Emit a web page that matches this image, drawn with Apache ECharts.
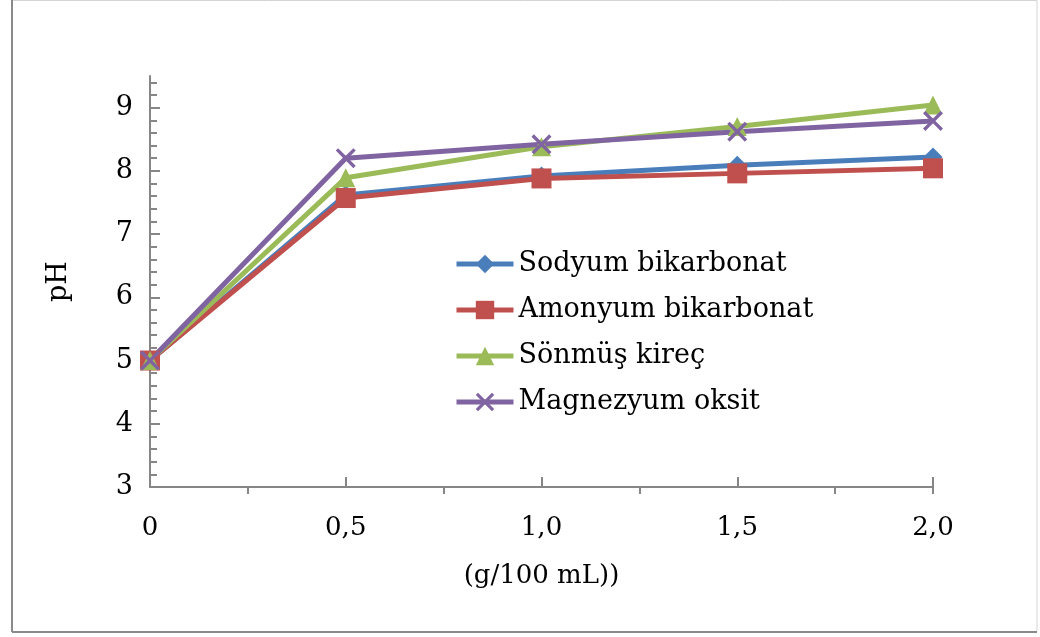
<!DOCTYPE html>
<html>
<head>
<meta charset="utf-8">
<script src="https://cdn.jsdelivr.net/npm/echarts@6/dist/echarts.min.js"></script>
<style>
  html, body { margin: 0; padding: 0; background: #fff; }
  #chart { width: 1040px; height: 637px; }
</style>
</head>
<body>
<div id="chart"></div>
<script>
// Dose (g/100 mL) and measured pH for each treatment
const doses = [0, 0.5, 1.0, 1.5, 2.0];
const sodyumBikarbonat = [5.0, 7.62, 7.92, 8.09, 8.22];
const amonyumBikarbonat = [5.0, 7.57, 7.88, 7.96, 8.04];
const sonmusKirec = [5.0, 7.89, 8.38, 8.70, 9.04];
const magnezyumOksit = [5.0, 8.20, 8.42, 8.62, 8.79];

const seriesNames = ['Sodyum bikarbonat', 'Amonyum bikarbonat', 'Sönmüş kireç', 'Magnezyum oksit'];

// Axis tick positions
const yTickLabels = [3, 4, 5, 6, 7, 8, 9];
const xTickLabels = [0, 0.5, 1.0, 1.5, 2.0];
const xMinorTicks = [0.25, 0.75, 1.25, 1.75, 2.0];

const yMinorTicks = [];
for (let v = 3.2; v < 9.45; v += 0.2) {
  const r = Math.round(v * 10) / 10;
  if (Math.abs(r - Math.round(r)) > 1e-6) yMinorTicks.push(r);
}

const FONT = 'DejaVu Serif';
const AXIS_GRAY = '#868686';
const CROSS = 'path://M0,1.2 L1.2,0 L5,3.8 L8.8,0 L10,1.2 L6.2,5 L10,8.8 L8.8,10 L5,6.2 L1.2,10 L0,8.8 L3.8,5 Z';

function pairs(ys) { return doses.map((x, i) => [x, ys[i]]); }

function lineSeries(name, ys, color, symbol, size) {
  return {
    name: name,
    type: 'line',
    data: pairs(ys),
    symbol: symbol,
    symbolSize: size,
    showAllSymbol: true,
    lineStyle: { color: color, width: 5 },
    itemStyle: { color: color },
    emphasis: { disabled: true }
  };
}

const chart = echarts.init(document.getElementById('chart'), null, { renderer: 'canvas' });

chart.setOption({
  animation: false,
  backgroundColor: '#ffffff',
  textStyle: { fontFamily: FONT },
  grid: { left: 150, right: 107, top: 76, bottom: 150, containLabel: false },
  graphic: [
    { type: 'rect', shape: { x: 12, y: 0.5, width: 1025, height: 631 },
      style: { fill: 'none', stroke: '#d4d4d4', lineWidth: 1 }, silent: true },
    { type: 'line', shape: { x1: 12, y1: 0, x2: 12, y2: 632 },
      style: { stroke: '#8a8a8a', lineWidth: 2 }, silent: true },
    { type: 'line', shape: { x1: 12, y1: 632, x2: 1037, y2: 632 },
      style: { stroke: '#8a8a8a', lineWidth: 2 }, silent: true }
  ],
  legend: {
    orient: 'vertical',
    left: 449,
    top: 244,
    itemWidth: 57,
    itemHeight: 23,
    itemGap: 16,
    data: seriesNames,
    lineStyle: { width: 5 },
    textStyle: { fontFamily: FONT, fontSize: 27, color: '#000', lineHeight: 30 }
  },
  xAxis: [
    {
      type: 'value',
      min: 0,
      max: 2,
      name: '(g/100 mL))',
      nameLocation: 'middle',
      nameGap: 76,
      nameTextStyle: { fontFamily: FONT, fontSize: 26, color: '#000' },
      axisLine: { show: true, onZero: false, lineStyle: { color: AXIS_GRAY, width: 2 } },
      axisTick: { show: true, inside: true, length: 10, customValues: xTickLabels,
        lineStyle: { color: AXIS_GRAY, width: 2 } },
      axisLabel: { customValues: xTickLabels, margin: 28, fontFamily: FONT, fontSize: 26, color: '#000',
        formatter: v => (v === 0 ? '0' : v.toFixed(1).replace('.', ',')) },
      splitLine: { show: false }
    },
    {
      type: 'value',
      min: 0,
      max: 2,
      position: 'bottom',
      axisLine: { show: false, onZero: false },
      axisTick: { show: true, inside: false, length: 7, customValues: xMinorTicks,
        lineStyle: { color: AXIS_GRAY, width: 2 } },
      axisLabel: { show: false },
      splitLine: { show: false }
    }
  ],
  yAxis: [
    {
      type: 'value',
      min: 3,
      max: 9.5,
      name: 'pH',
      nameLocation: 'middle',
      nameGap: 78,
      nameTextStyle: { fontFamily: FONT, fontSize: 27, color: '#000' },
      axisLine: { show: true, onZero: false, lineStyle: { color: AXIS_GRAY, width: 2 } },
      axisTick: { show: true, inside: true, length: 10, customValues: yTickLabels,
        lineStyle: { color: AXIS_GRAY, width: 2 } },
      axisLabel: { customValues: yTickLabels, margin: 17, fontFamily: FONT, fontSize: 27, color: '#000' },
      splitLine: { show: false }
    },
    {
      type: 'value',
      min: 3,
      max: 9.5,
      position: 'left',
      axisLine: { show: false, onZero: false },
      axisTick: { show: true, inside: true, length: 7, customValues: yMinorTicks,
        lineStyle: { color: AXIS_GRAY, width: 2 } },
      axisLabel: { show: false },
      splitLine: { show: false }
    }
  ],
  series: [
    lineSeries(seriesNames[0], sodyumBikarbonat, '#4a7ebb', 'diamond', 19),
    lineSeries(seriesNames[1], amonyumBikarbonat, '#c0504d', 'rect', 20),
    lineSeries(seriesNames[2], sonmusKirec, '#9bbb59', 'triangle', 19),
    lineSeries(seriesNames[3], magnezyumOksit, '#8064a2', CROSS, 20)
  ]
});
</script>
</body>
</html>
